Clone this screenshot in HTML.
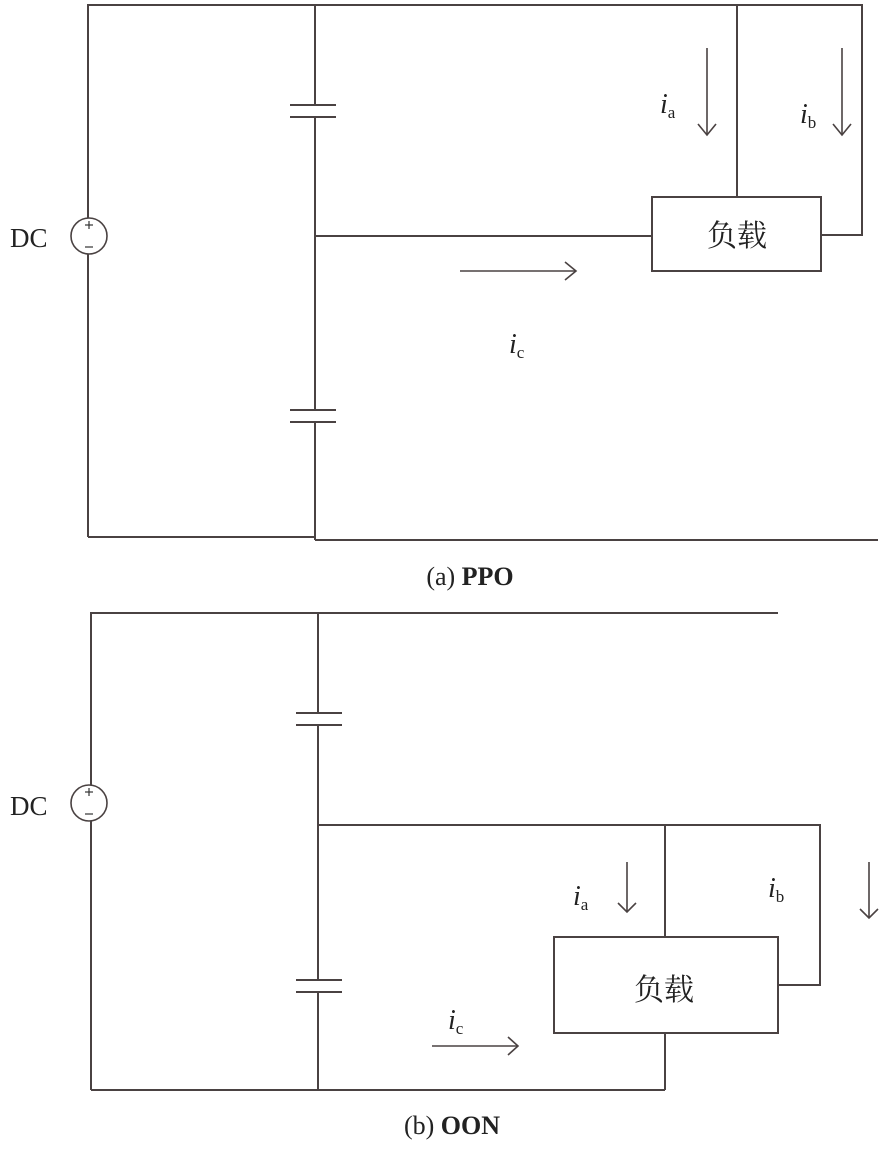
<!DOCTYPE html>
<html><head><meta charset="utf-8"><style>
html,body{margin:0;padding:0;background:#fff;}
svg{display:block;}
text{font-family:"Liberation Serif","Noto Serif CJK SC",serif;fill:#222;}
</style></head><body>
<svg width="886" height="1151" viewBox="0 0 886 1151" xmlns="http://www.w3.org/2000/svg">
<g stroke="#4a4242" stroke-width="2" fill="none">
<polyline points="88,218 88,5 862,5 862,235 821,235"/>
<line x1="88" y1="254" x2="88" y2="537"/>
<line x1="88" y1="537" x2="315" y2="537"/>
<line x1="315" y1="5" x2="315" y2="105"/>
<line x1="315" y1="117" x2="315" y2="410"/>
<line x1="315" y1="422" x2="315" y2="540"/>
<line x1="315" y1="540" x2="878" y2="540"/>
<line x1="290" y1="105" x2="336" y2="105"/><line x1="290" y1="117" x2="336" y2="117"/>
<line x1="290" y1="410" x2="336" y2="410"/><line x1="290" y1="422" x2="336" y2="422"/>
<line x1="315" y1="236" x2="652" y2="236"/>
<rect x="652" y="197" width="169" height="74"/>
<line x1="737" y1="5" x2="737" y2="197"/>
<circle cx="89" cy="236" r="18" stroke-width="1.6"/>
<g stroke-width="1.6">
<line x1="707" y1="48" x2="707" y2="135"/><polyline points="698,124 707,135 716,124"/>
<line x1="842" y1="48" x2="842" y2="135"/><polyline points="833,124 842,135 851,124"/>
<line x1="460" y1="271" x2="576" y2="271"/><polyline points="565,262 576,271 565,280"/>
</g>
<polyline points="91,785 91,613 778,613"/>
<line x1="91" y1="821" x2="91" y2="1090"/>
<line x1="91" y1="1090" x2="665" y2="1090"/>
<line x1="665" y1="1090" x2="665" y2="1033"/>
<line x1="318" y1="613" x2="318" y2="713"/>
<line x1="318" y1="725" x2="318" y2="980"/>
<line x1="318" y1="992" x2="318" y2="1090"/>
<line x1="296" y1="713" x2="342" y2="713"/><line x1="296" y1="725" x2="342" y2="725"/>
<line x1="296" y1="980" x2="342" y2="980"/><line x1="296" y1="992" x2="342" y2="992"/>
<polyline points="318,825 820,825 820,985 778,985"/>
<line x1="665" y1="825" x2="665" y2="937"/>
<rect x="554" y="937" width="224" height="96"/>
<circle cx="89" cy="803" r="18" stroke-width="1.6"/>
<g stroke-width="1.6">
<line x1="627" y1="862" x2="627" y2="912"/><polyline points="618,903 627,912 636,903"/>
<line x1="869" y1="862" x2="869" y2="918"/><polyline points="860,909 869,918 878,909"/>
<line x1="432" y1="1046" x2="518" y2="1046"/><polyline points="508,1037 518,1046 508,1055"/>
</g>
</g>
<g stroke="#333" stroke-width="1.2">
<line x1="85" y1="225" x2="93" y2="225"/><line x1="89" y1="221" x2="89" y2="229"/>
<line x1="85" y1="247" x2="93" y2="247"/>
<line x1="85" y1="792" x2="93" y2="792"/><line x1="89" y1="788" x2="89" y2="796"/>
<line x1="85" y1="814" x2="93" y2="814"/>
</g>
<text x="10" y="247" font-size="27">DC</text>
<text x="10" y="815" font-size="27">DC</text>
<text x="737" y="246" font-size="30" text-anchor="middle" font-family="Noto Sans CJK SC, sans-serif">负载</text>
<text x="664" y="1000" font-size="30" text-anchor="middle" font-family="Noto Sans CJK SC, sans-serif">负载</text>
<text x="660" y="113" font-size="28" font-style="italic">i<tspan font-size="17" font-style="normal" dy="5">a</tspan></text>
<text x="800" y="123" font-size="28" font-style="italic">i<tspan font-size="17" font-style="normal" dy="5">b</tspan></text>
<text x="509" y="353" font-size="28" font-style="italic">i<tspan font-size="17" font-style="normal" dy="5">c</tspan></text>
<text x="573" y="905" font-size="28" font-style="italic">i<tspan font-size="17" font-style="normal" dy="5">a</tspan></text>
<text x="768" y="897" font-size="28" font-style="italic">i<tspan font-size="17" font-style="normal" dy="5">b</tspan></text>
<text x="448" y="1029" font-size="28" font-style="italic">i<tspan font-size="17" font-style="normal" dy="5">c</tspan></text>
<text x="470" y="585" font-size="26" text-anchor="middle">(a) <tspan font-weight="bold">PPO</tspan></text>
<text x="452" y="1134" font-size="26" text-anchor="middle">(b) <tspan font-weight="bold">OON</tspan></text>
</svg>
</body></html>
